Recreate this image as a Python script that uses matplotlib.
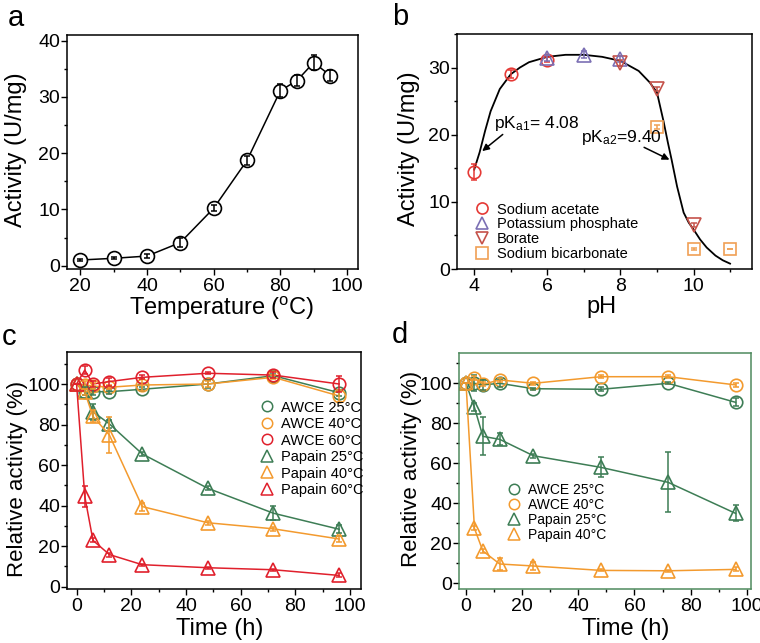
import numpy as np
import matplotlib
matplotlib.use("Agg")
import matplotlib.pyplot as plt
from matplotlib.lines import Line2D
from matplotlib.ticker import MultipleLocator

plt.rcParams['font.family'] = ['Liberation Sans', 'DejaVu Sans']
plt.rcParams['mathtext.fontset'] = 'custom'
plt.rcParams['mathtext.rm'] = 'Liberation Sans'
plt.rcParams['mathtext.it'] = 'Liberation Sans:italic'

GREEN = "#3d7d55"
ORANGE = "#f39a2e"
RED = "#e0202c"
DEG = "$^{\\rm o}$"

# ---- panel a: temperature profile
temp = [20, 30, 40, 50, 60, 70, 80, 85, 90, 95]
temp_act = [1.0, 1.3, 1.7, 4.1, 10.2, 18.7, 31.1, 32.9, 36.1, 33.8]
temp_err = [0.1, 0.2, 0.3, 0.8, 0.5, 0.8, 1.2, 1.0, 1.3, 1.0]

# ---- panel b: pH profile
acetate_ph = [4, 5, 6]
acetate_act = [14.5, 29.1, 31.2]
acetate_err = [1.2, 0.6, 0.4]
phosphate_ph = [6, 7, 8]
phosphate_act = [31.4, 31.9, 31.3]
phosphate_err = [0.4, 0.5, 0.4]
borate_ph = [8, 9, 10]
borate_act = [30.7, 26.8, 6.6]
borate_err = [0.5, 0.3, 0.3]
bicarb_ph = [9, 10, 11]
bicarb_act = [21.1, 3.0, 3.0]
bicarb_err = [0.3, 0.2, 0.0]
fit_ph = [4.0, 4.15, 4.3, 4.45, 4.7, 5.0, 5.25, 5.5, 6.0, 6.5, 7.0, 7.5, 8.0, 8.5,
          8.8, 9.0, 9.18, 9.3, 9.4, 9.55, 9.73, 9.87, 10.0, 10.18, 10.36, 10.6, 10.8, 11.0]
fit_act = [14.8, 17.4, 20.6, 23.5, 26.8, 29.0, 30.0, 30.8, 31.6, 31.9, 31.9, 31.6, 31.0, 29.5,
           27.8, 26.3, 22.0, 18.8, 16.3, 12.3, 8.4, 6.9, 5.9, 4.4, 3.2, 2.0, 1.3, 0.8]

# ---- panels c and d: stability
time = [0, 3, 6, 12, 24, 48, 72, 96]
c_awce25 = [100, 96.2, 96.2, 96.2, 97.4, 100, 104.1, 95.7]
c_awce25_err = [0, 1.5, 1.5, 1.0, 1.0, 2.0, 1.0, 1.5]
c_awce40 = [100, 99.5, 99.0, 98.4, 99.5, 100, 103.3, 94.1]
c_awce40_err = [0, 2.0, 1.5, 1.0, 3.0, 1.5, 1.0, 3.0]
c_awce60 = [100, 106.9, 100, 101.2, 103.3, 105.3, 104.4, 100]
c_awce60_err = [0, 2.0, 1.5, 2.0, 1.0, 0.5, 1.5, 4.0]
c_pap25 = [100, 96.5, 86.3, 80.3, 65.5, 48.5, 36.2, 28.3]
c_pap25_err = [0, 2.0, 4.0, 2.0, 1.0, 1.0, 3.5, 2.0]
c_pap40 = [100, 96.0, 84.0, 74.8, 39.5, 31.5, 28.5, 23.5]
c_pap40_err = [0, 1.5, 3.0, 9.0, 2.0, 1.0, 1.0, 1.5]
c_pap60 = [100, 44.5, 22.8, 15.8, 10.8, 9.3, 8.3, 5.5]
c_pap60_err = [0, 5.0, 1.0, 1.0, 0.5, 0.5, 0.5, 1.0]

d_awce25 = [100, 100, 99.2, 100, 97.3, 97.0, 100, 90.5]
d_awce25_err = [0, 4.0, 2.5, 2.0, 0.5, 1.0, 0.5, 2.0]
d_awce40 = [100, 102.8, 99.5, 101.7, 100, 103.3, 103.3, 99.2]
d_awce40_err = [0, 1.0, 1.0, 1.0, 0.8, 0.8, 0.8, 1.0]
d_pap25 = [100, 88.0, 73.5, 72.0, 63.8, 58.0, 50.5, 35.0]
d_pap25_err = [0, 2.0, 9.5, 3.0, 1.0, 5.0, 15.0, 4.0]
d_pap40 = [100, 27.5, 16.2, 9.7, 8.7, 6.5, 6.3, 7.0]
d_pap40_err = [0, 1.0, 1.0, 3.0, 2.0, 0.5, 0.5, 1.0]

fig = plt.figure(figsize=(7.6, 6.43), dpi=100)
W, H = 760.0, 643.0


def make_ax(l, t, r, b):
    return fig.add_axes([l / W, 1 - b / H, (r - l) / W, (b - t) / H])


def style(ax, xmaj, xmin, ymaj, ymin):
    ax.xaxis.set_major_locator(MultipleLocator(xmaj))
    ax.xaxis.set_minor_locator(MultipleLocator(xmin))
    ax.yaxis.set_major_locator(MultipleLocator(ymaj))
    ax.yaxis.set_minor_locator(MultipleLocator(ymin))
    ax.tick_params(which='both', direction='out', top=False, right=False, labelsize=14, width=1.0)
    ax.tick_params(which='major', length=4)
    ax.tick_params(which='minor', length=2.5)
    ax.tick_params(axis='y', pad=1)
    ax.tick_params(axis='x', pad=2.5)
    for s in ax.spines.values():
        s.set_linewidth(1.1)


def series(ax, x, y, e, color, marker, ms, face='none', line=True):
    ax.plot(x, y, ls='-' if line else 'none', color=color, lw=1.1, marker=marker, ms=ms,
            mfc=face, mec=color, mew=1.2, zorder=2)
    ax.errorbar(x, y, yerr=e, fmt='none', ecolor=color, elinewidth=1.1, capsize=2.2, capthick=1.1, zorder=3)


def legend(ax, handles, labels, loc, anchor, size, spacing):
    ax.legend(handles, labels, loc=loc, bbox_to_anchor=anchor, frameon=False, fontsize=size,
              handlelength=1.0, handletextpad=0.5, labelspacing=spacing, borderpad=0, borderaxespad=0)


# ---------------- a
ax = make_ax(67, 35, 358, 269)
series(ax, temp, temp_act, temp_err, 'black', 'o', 10, face='white')
ax.set_xlim(16, 103.3)
ax.set_ylim(-0.6, 41)
style(ax, 20, 10, 10, 5)
ax.set_xlabel('Temperature (' + DEG + 'C)', fontsize=17)
ax.set_ylabel('Activity (U/mg)', fontsize=17)
ax.yaxis.set_label_coords(-0.137, 0.51)
ax.xaxis.set_label_coords(0.53, -0.112)
fig.text(8 / W, 1 - 26 / H, 'a', fontsize=21)

# ---------------- b
ax = make_ax(457, 34, 752, 269)
ax.plot(fit_ph, fit_act, '-', color='black', lw=1.3, zorder=1)
series(ax, acetate_ph, acetate_act, acetate_err, '#e53935', 'o', 9, line=False)
series(ax, phosphate_ph, phosphate_act, phosphate_err, '#7c70b4', '^', 10, line=False)
series(ax, borate_ph, borate_act, borate_err, '#c5524a', 'v', 10, line=False)
series(ax, bicarb_ph, bicarb_act, bicarb_err, '#f0a055', 's', 9, line=False)
ax.annotate('', xy=(4.16, 17.3), xytext=(4.84, 20.3),
            arrowprops=dict(arrowstyle='-|>', color='black', lw=1.1, mutation_scale=10))
ax.annotate('', xy=(9.41, 16.1), xytext=(8.58, 18.3),
            arrowprops=dict(arrowstyle='-|>', color='black', lw=1.1, mutation_scale=10))
ax.text(4.55, 20.2, 'pK$_{\\rm a1}$= 4.08', fontsize=12.5, va='bottom')
ax.text(6.93, 18.2, 'pK$_{\\rm a2}$=9.40', fontsize=12.5, va='bottom')
ax.set_xlim(3.53, 11.6)
ax.set_ylim(0, 35)
style(ax, 2, 1, 10, 5)
ax.set_xlabel('pH', fontsize=17)
ax.set_ylabel('Activity (U/mg)', fontsize=17)
ax.yaxis.set_label_coords(-0.125, 0.51)
ax.xaxis.set_label_coords(0.49, -0.115)
handles = [Line2D([], [], ls='none', marker='o', ms=8, mfc='none', mec='#e53935', mew=1.2),
           Line2D([], [], ls='none', marker='^', ms=9, mfc='none', mec='#7c70b4', mew=1.2),
           Line2D([], [], ls='none', marker='v', ms=9, mfc='none', mec='#c5524a', mew=1.2),
           Line2D([], [], ls='none', marker='s', ms=8, mfc='none', mec='#f0a055', mew=1.2)]
legend(ax, handles, ['Sodium acetate', 'Potassium phosphate', 'Borate', 'Sodium bicarbonate'],
       'lower left', (0.06, 0.035), 10.5, 0.05)
fig.text(392 / W, 1 - 25 / H, 'b', fontsize=21)

# ---------------- c
ax = make_ax(67, 352, 361, 589)
c_sets = [(c_awce25, c_awce25_err, GREEN, 'o', 'AWCE 25'),
          (c_awce40, c_awce40_err, ORANGE, 'o', 'AWCE 40'),
          (c_awce60, c_awce60_err, RED, 'o', 'AWCE 60'),
          (c_pap25, c_pap25_err, GREEN, '^', 'Papain 25'),
          (c_pap40, c_pap40_err, ORANGE, '^', 'Papain 40'),
          (c_pap60, c_pap60_err, RED, '^', 'Papain 60')]
handles, labels = [], []
for y, e, col, mk, lab in c_sets:
    series(ax, time, y, e, col, mk, 10 if mk == '^' else 9)
    handles.append(Line2D([], [], ls='none', marker=mk, ms=8 if mk == '^' else 7.5, mfc='none', mec=col, mew=1.1))
    labels.append(lab + '\u00b0C')
ax.set_xlim(-3.5, 104)
ax.set_ylim(-1.2, 115.8)
style(ax, 20, 10, 20, 10)
ax.set_xlabel('Time (h)', fontsize=17)
ax.set_ylabel('Relative activity (%)', fontsize=16)
ax.yaxis.set_label_coords(-0.133, 0.465)
ax.xaxis.set_label_coords(0.52, -0.122)
legend(ax, handles, labels, 'upper left', (0.655, 0.795), 10.5, 0.17)
fig.text(2 / W, 1 - 345 / H, 'c', fontsize=21)

# ---------------- d
ax = make_ax(459, 352.7, 751, 589)
d_sets = [(d_awce25, d_awce25_err, GREEN, 'o', 'AWCE 25'),
          (d_awce40, d_awce40_err, ORANGE, 'o', 'AWCE 40'),
          (d_pap25, d_pap25_err, GREEN, '^', 'Papain 25'),
          (d_pap40, d_pap40_err, ORANGE, '^', 'Papain 40')]
handles, labels = [], []
for y, e, col, mk, lab in d_sets:
    series(ax, time, y, e, col, mk, 10 if mk == '^' else 9)
    handles.append(Line2D([], [], ls='none', marker=mk, ms=8 if mk == '^' else 7.5, mfc='none', mec=col, mew=1.1))
    labels.append(lab + '\u00b0C')
ax.set_xlim(-2.5, 101.5)
ax.set_ylim(-2.8, 115.3)
style(ax, 20, 10, 20, 10)
for s in ax.spines.values():
    s.set_color('#4e8a5e')
ax.set_xlabel('Time (h)', fontsize=17)
ax.set_ylabel('Relative activity (%)', fontsize=16)
ax.yaxis.set_label_coords(-0.127, 0.51)
ax.xaxis.set_label_coords(0.57, -0.122)
legend(ax, handles, labels, 'upper left', (0.165, 0.45), 10, 0.08)
fig.text(392 / W, 1 - 343 / H, 'd', fontsize=21)

fig.savefig('out.png', dpi=100)
